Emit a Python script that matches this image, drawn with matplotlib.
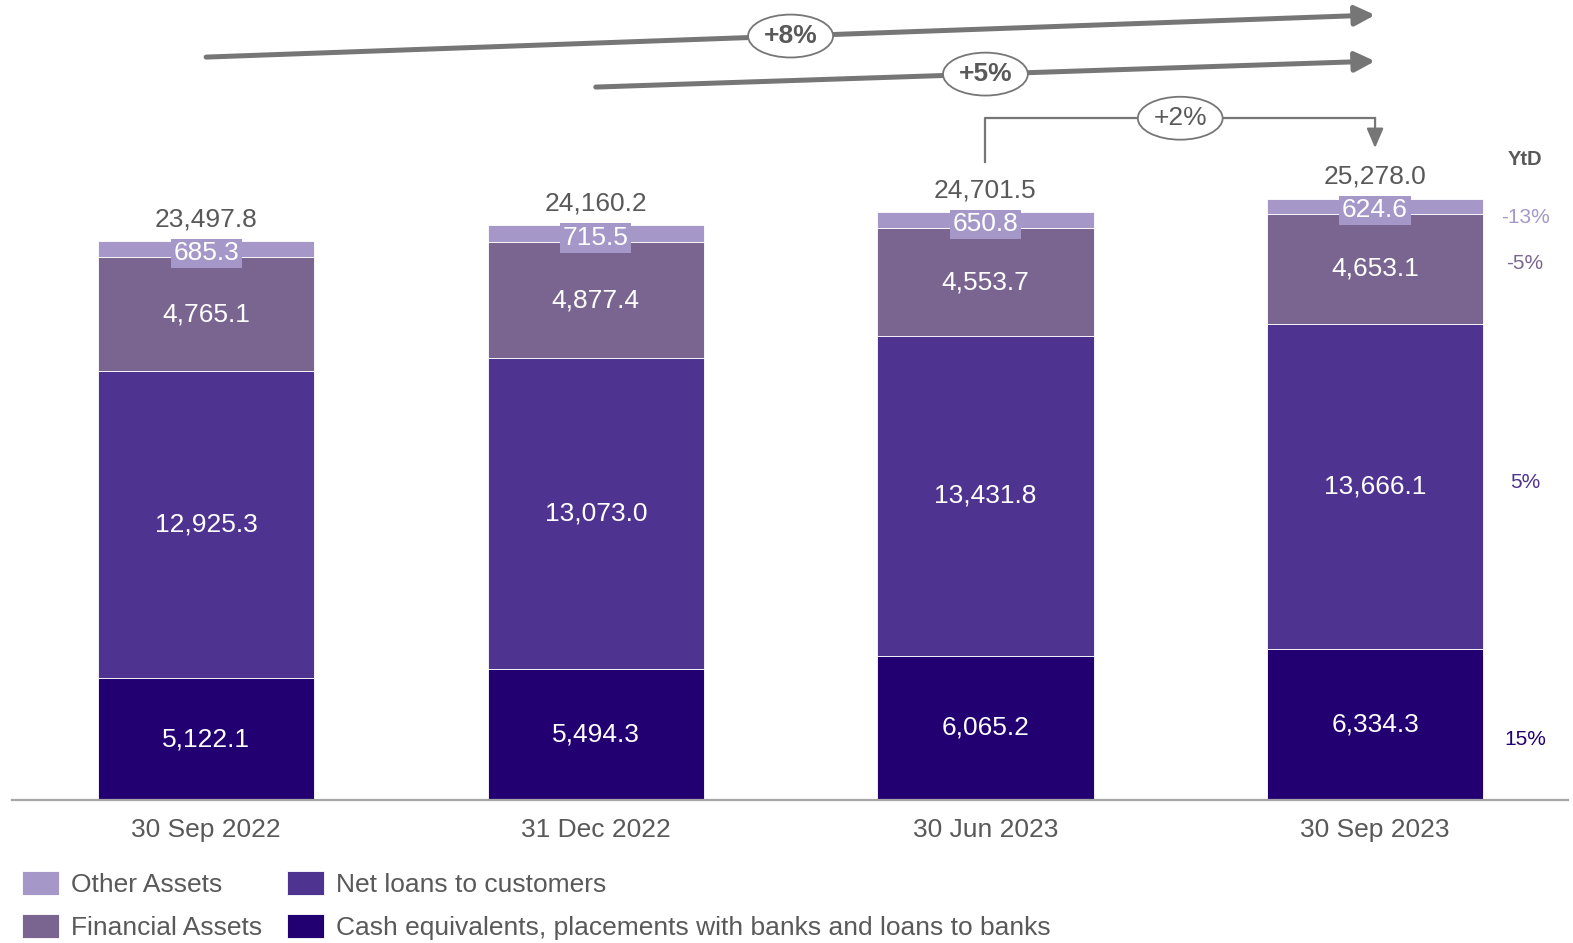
import numpy as np
import matplotlib
matplotlib.use("Agg")
import matplotlib.pyplot as plt

plt.rcParams['font.family'] = ['Liberation Sans', 'DejaVu Sans']

# Data (EUR mn)
dates = ['30 Sep 2022', '31 Dec 2022', '30 Jun 2023', '30 Sep 2023']
cash = [5122.1, 5494.3, 6065.2, 6334.3]
loans = [12925.3, 13073.0, 13431.8, 13666.1]
financial = [4765.1, 4877.4, 4553.7, 4653.1]
other = [685.3, 715.5, 650.8, 624.6]
totals = [23497.8, 24160.2, 24701.5, 25278.0]

series_names = ['Cash equivalents, placements with banks and loans to banks',
                'Net loans to customers', 'Financial Assets', 'Other Assets']
ytd_labels = ['15%', '5%', '-5%', '-13%']
growth_labels = ['+8%', '+5%', '+2%']

colors = ['#230072', '#4E3390', '#7A6590', '#A598C9']
gray_text = '#595959'
gray_arrow = '#767676'
fs = 19

fig = plt.figure(figsize=(15.73, 9.43), dpi=100)
ax = fig.add_axes([0, 143 / 943, 1, 800 / 943])

x = np.arange(len(dates))
width = 0.555
ymax = 33630

bottom = np.zeros(len(dates))
containers = []
for vals, c in zip([cash, loans, financial, other], colors):
    bc = ax.bar(x, vals, width, bottom=bottom, color=c, edgecolor='white', linewidth=0.6)
    containers.append(bc)
    bottom += np.array(vals)

for bc in containers[:3]:
    ax.bar_label(bc, labels=[f'{v:,.1f}' for v in bc.datavalues], label_type='center',
                 color='white', fontsize=fs)

# other assets labels sit on a small box, slightly below segment centre
other_base = np.array(cash) + np.array(loans) + np.array(financial)
for xi, b, v in zip(x, other_base, other):
    ax.annotate(f'{v:,.1f}', (xi, b + v / 2), xytext=(0, -3), textcoords='offset points',
                ha='center', va='center', color='white', fontsize=fs,
                bbox=dict(boxstyle='square,pad=0.1', fc=colors[3], ec='none'))

# totals above bars
for xi, t in zip(x, totals):
    ax.annotate(f'{t:,.1f}', (xi, t), xytext=(0, 7), textcoords='offset points',
                ha='center', va='bottom', color=gray_text, fontsize=fs)

# YtD column next to last bar
ytd_x = x[-1] + 0.385
last = [cash[-1], loans[-1], financial[-1], other[-1]]
centers = np.cumsum(last) - np.array(last) / 2
nudges = [15, -4, -5, 11]
for lab, yc, c, nd in zip(ytd_labels, centers, colors, nudges):
    ax.annotate(lab, (ytd_x, yc), xytext=(0, -nd * 0.72), textcoords='offset points',
                ha='center', va='center', color=c, fontsize=15)
ax.annotate('YtD', (ytd_x, totals[-1]), xytext=(0, 28), textcoords='offset points',
            ha='center', va='center', color=gray_text, fontsize=14.5, fontweight='bold')

# growth arrows
arrow_kw = dict(arrowstyle='-|>,head_length=0.6,head_width=0.3', color=gray_arrow,
                lw=3.6, mutation_scale=20, shrinkA=0, shrinkB=0)
y8 = (31230, 33000)
y5 = (29970, 31060)
ax.annotate('', xy=(x[3], y8[1]), xytext=(x[0], y8[0]), arrowprops=arrow_kw)
ax.annotate('', xy=(x[3], y5[1]), xytext=(x[1], y5[0]), arrowprops=arrow_kw)

def on_line(x0, y0, x1, y1, xm):
    return y0 + (y1 - y0) * (xm - x0) / (x1 - x0)

ell = dict(boxstyle='ellipse,pad=0.12', fc='white', ec=gray_arrow, lw=1.3)
xm8 = (x[1] + x[2]) / 2
ax.text(xm8, on_line(x[0], y8[0], x[3], y8[1], xm8), growth_labels[0], ha='center',
        va='center', fontsize=fs, fontweight='bold', color=gray_text, bbox=ell, zorder=5)
xm5 = x[2]
ax.text(xm5, on_line(x[1], y5[0], x[3], y5[1], xm5), growth_labels[1], ha='center',
        va='center', fontsize=fs, fontweight='bold', color=gray_text, bbox=ell, zorder=5)

# elbow arrow between last two bars
y_el = 28660
ax.plot([x[2], x[2], x[3]], [totals[2] + 2110, y_el, y_el], color=gray_arrow, lw=1.6)
ax.annotate('', xy=(x[3], totals[3] + 2130), xytext=(x[3], y_el),
            arrowprops=dict(arrowstyle='-|>,head_length=0.7,head_width=0.3', color=gray_arrow,
                            lw=1.6, mutation_scale=17, shrinkA=0, shrinkB=0))
ax.text((x[2] + x[3]) / 2, y_el, growth_labels[2], ha='center', va='center', fontsize=fs,
        color=gray_text, bbox=ell, zorder=5)

# axes styling
ax.set_xlim(-0.529, 3.508)
ax.set_ylim(0, ymax)
for s in ax.spines.values():
    s.set_visible(False)
ax.axhline(0, xmin=12 / 1573, xmax=1568 / 1573, color='#A6A6A6', lw=1.6, clip_on=False)
ax.set_yticks([])
ax.set_xticks(x)
ax.set_xticklabels(dates, fontsize=fs, color=gray_text)
ax.tick_params(axis='x', length=0, pad=13)

# legend
handles = [containers[3], containers[2], containers[1], containers[0]]
labels = [series_names[3], series_names[2], series_names[1], series_names[0]]
fig.legend(handles, labels, ncol=2, loc='upper left', bbox_to_anchor=(22 / 1573, 1 - 871 / 943),
           frameon=False, fontsize=19, labelcolor=gray_text, borderpad=0, borderaxespad=0,
           handlelength=1.4, handleheight=1.05, handletextpad=0.45, columnspacing=0.95,
           labelspacing=0.62)

fig.savefig('out.png', dpi=100)
